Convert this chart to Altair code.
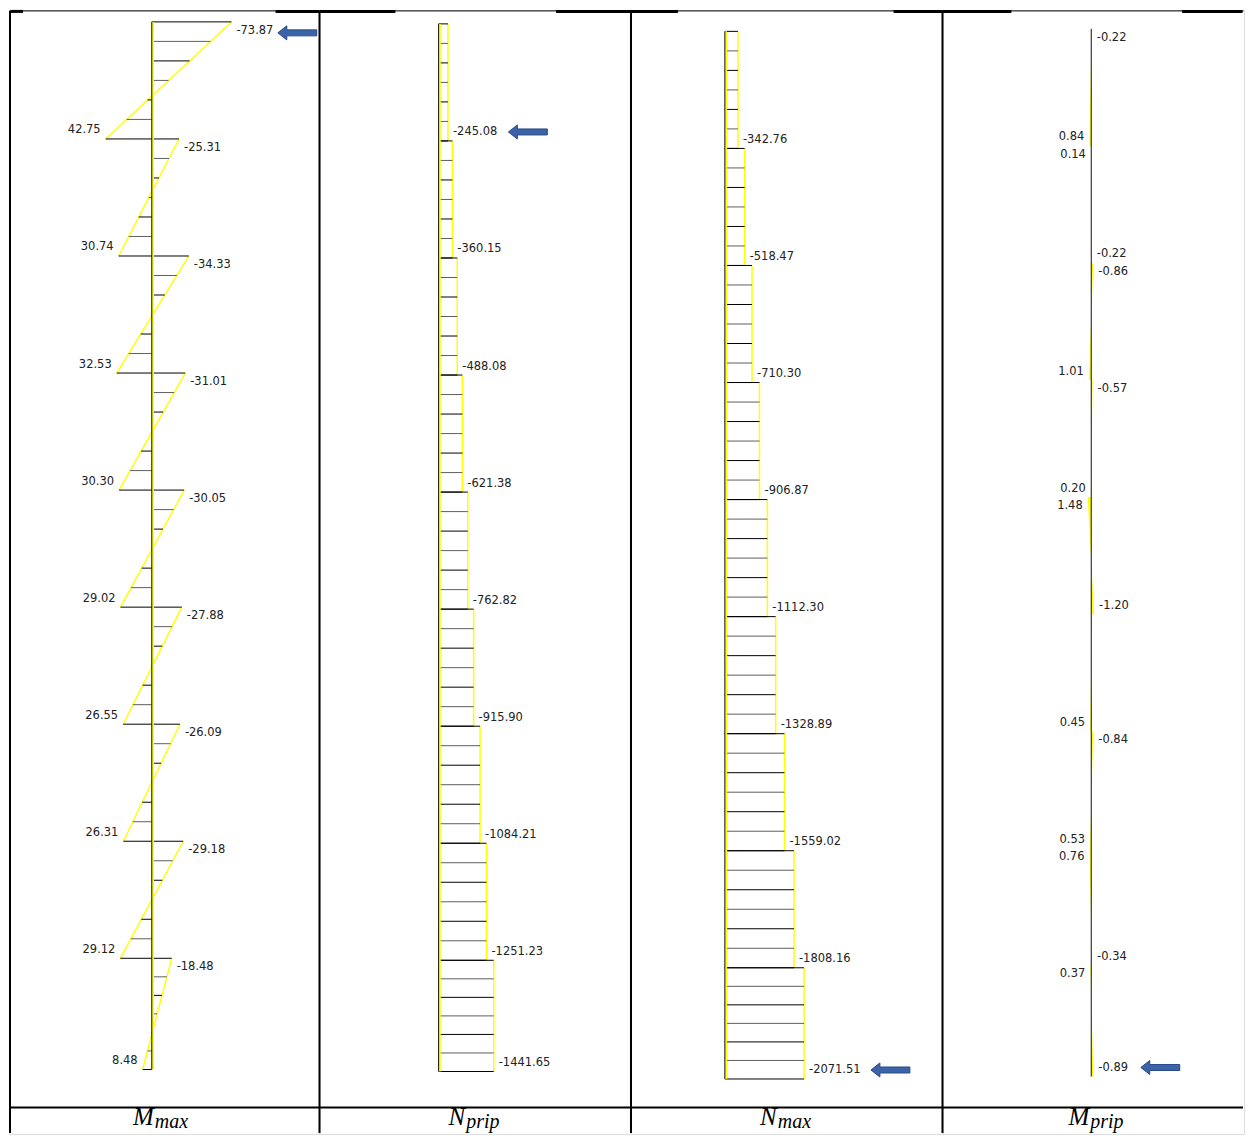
import altair as alt
import pandas as pd
import numpy as np

# ---------------- data ----------------
STOREY_HEIGHTS = [3.0, 3.0, 3.0, 3.0, 3.0, 3.0, 3.0, 3.0, 2.85]

M_MAX_TOP = [-73.87, -25.31, -34.33, -31.01, -30.05, -27.88, -26.09, -29.18, -18.48]
M_MAX_BOTTOM = [42.75, 30.74, 32.53, 30.30, 29.02, 26.55, 26.31, 29.12, 8.48]

N_PRIP = [-245.08, -360.15, -488.08, -621.38, -762.82, -915.90, -1084.21, -1251.23, -1441.65]
N_MAX = [-342.76, -518.47, -710.30, -906.87, -1112.30, -1328.89, -1559.02, -1808.16, -2071.51]

M_PRIP_TOP = [-0.22, 0.14, -0.86, -0.57, 1.48, -0.30, -0.84, 0.76, 0.37]
M_PRIP_BOTTOM = [0.84, -0.22, 1.01, 0.20, -1.20, 0.45, 0.53, -0.34, -0.89]
M_PRIP_TOP_SHOWN = [True, True, True, True, True, False, True, True, True]

PANEL_SYMBOLS = ["M", "N", "N", "M"]
PANEL_SUBSCRIPTS = ["max", "prip", "max", "prip"]
ARROW_AT = [("top", 0), ("bottom", 0), ("bottom", 8), ("bottom", 8)]

# ---------------- layout / style ----------------
PANEL_W = [311, 312, 312, 302]
PANEL_H = 1126
ROW_SPLIT = 1099.3
AXIS_X = [143, 119.3, 94, 149]
PX_PER_UNIT = [1.08, 0.0383, 0.0383, 2.4]
OUTLINE_W = [1.4, 1.5, 1.5, 1.0]
TOP_Y = [12, 14, 21.5, 19]
PX_PER_M = 39.08
HATCH = 6
ARROW_DX = [66, 80, 86.5, 67]
ARROW_DY = [11, -9, -9, -9]
TOP_THICK = [[(0, 14), (267, 311)], [(0, 76), (237, 312)],
             [(0, 47), (263, 312)], [(0, 69), (240, 302)]]
TITLE_SPLIT = [145, 146, 146, 147]
YELLOW = "#ffff00"
LABEL_FONT = "DejaVu Sans"
ARROW_PATH = ("M -1 0 L -0.54 -0.36 L -0.54 -0.154 L 1 -0.154 "
              "L 1 0.154 L -0.54 0.154 L -0.54 0.36 Z")

levels = [0.0] + list(np.cumsum(STOREY_HEIGHTS))
one = pd.DataFrame({"o": [0]})


def hline(p, w, x0, x1, y, sw):
    # keep stroke bounds inside the outer edges of the whole figure
    if p == 0:
        x0 = max(x0, sw / 2)
    if p == 3:
        x1 = min(x1, w - sw / 2)
    return alt.Chart(one).mark_rule(color="black", strokeWidth=sw).encode(
        x=alt.value(x0), x2=alt.value(x1), y=alt.value(y))


def make_panel(p, kind, v_top, v_bot, top_shown):
    w = PANEL_W[p]
    a = AXIS_X[p]
    k = PX_PER_UNIT[p]
    T = TOP_Y[p]
    xs = alt.Scale(domain=[(a - w) / k, a / k], reverse=True, nice=False, zero=False)
    ys = alt.Scale(domain=[-T / PX_PER_M, (PANEL_H - T) / PX_PER_M],
                   reverse=True, nice=False, zero=False)

    st = pd.DataFrame({
        "i": list(range(len(STOREY_HEIGHTS))),
        "v_top": v_top, "v_bot": v_bot,
        "d_top": levels[:-1], "d_bot": levels[1:],
        "zero": 0.0,
    })
    layers = []

    # yellow diagram outline
    outline = alt.Chart(st).mark_rule(color=YELLOW, strokeWidth=OUTLINE_W[p]).encode(
        x=alt.X("v_top:Q", scale=xs, axis=None),
        x2=alt.X2("v_bot"),
        y=alt.Y("d_top:Q", scale=ys, axis=None),
        y2=alt.Y2("d_bot"),
    )

    if p != 3:
        layers.append(outline)
        # hatching of the diagram area
        hatch = alt.Chart(st).transform_calculate(
            ks=f"sequence(0, {HATCH + 1})"
        ).transform_flatten(["ks"], as_=["k"]).transform_calculate(
            hv=f"datum.v_top + (datum.v_bot - datum.v_top) * datum.k / {HATCH}",
            hd=f"datum.d_top + (datum.d_bot - datum.d_top) * datum.k / {HATCH}",
            par="datum.k % 2 == 0 ? 'a' : 'b'",
        ).mark_rule(strokeWidth=1).encode(
            x=alt.X("hv:Q", scale=xs, axis=None),
            x2=alt.X2("zero"),
            y=alt.Y("hd:Q", scale=ys, axis=None),
            stroke=alt.Stroke("par:N", scale=alt.Scale(domain=["a", "b"],
                              range=["#000000", "#5e5e5e"]), legend=None),
        )
        layers.append(hatch)
    else:
        # tiny diagram: drawn as a solid yellow sliver between axis and line
        long_rows = []
        for i in range(len(STOREY_HEIGHTS)):
            long_rows.append({"i": i, "v": v_top[i], "d": levels[i], "zero": 0.0})
            long_rows.append({"i": i, "v": v_bot[i], "d": levels[i + 1], "zero": 0.0})
        lg = pd.DataFrame(long_rows)
        layers.append(alt.Chart(lg).mark_area(
            color=YELLOW, opacity=1, orient="horizontal", interpolate="linear"
        ).encode(
            x=alt.X("v:Q", scale=xs, axis=None),
            x2=alt.X2("zero"),
            y=alt.Y("d:Q", scale=ys, axis=None),
            detail="i:N",
        ))

    # member axis
    ax = pd.DataFrame({"zero": [0.0], "d0": [levels[0]], "d1": [levels[-1]]})
    if p != 3:
        layers.append(alt.Chart(ax).mark_rule(color=YELLOW, strokeWidth=2, xOffset=1.2).encode(
            x=alt.X("zero:Q", scale=xs, axis=None),
            y=alt.Y("d0:Q", scale=ys, axis=None), y2=alt.Y2("d1")))
    layers.append(alt.Chart(ax).mark_rule(color="#111111", strokeWidth=1).encode(
        x=alt.X("zero:Q", scale=xs, axis=None),
        y=alt.Y("d0:Q", scale=ys, axis=None), y2=alt.Y2("d1")))

    # value labels
    rows = []
    for i in range(len(STOREY_HEIGHTS)):
        if kind == "M" and top_shown[i]:
            rows.append({"val": v_top[i], "d": levels[i], "pos": "top"})
        rows.append({"val": v_bot[i], "d": levels[i + 1], "pos": "bot"})
    lab = pd.DataFrame(rows)
    lab["side"] = np.where(lab["val"] < 0, "r", "l")
    lab["txt"] = [f"{v:.2f}" for v in lab["val"]]
    for pos in ["top", "bot"]:
        for side in ["r", "l"]:
            sub = lab[(lab["pos"] == pos) & (lab["side"] == side)]
            if len(sub) == 0:
                continue
            layers.append(alt.Chart(sub).mark_text(
                font=LABEL_FONT, fontSize=11.5, color="#222222",
                align="left" if side == "r" else "right",
                baseline="middle",
                dx=5 if side == "r" else -5,
                dy=9 if pos == "top" else -8.5,
            ).encode(
                x=alt.X("val:Q", scale=xs, axis=None),
                y=alt.Y("d:Q", scale=ys, axis=None),
                text="txt:N",
            ))

    # governing-value arrow
    end, si = ARROW_AT[p]
    av = v_top[si] if end == "top" else v_bot[si]
    ad = levels[si] if end == "top" else levels[si + 1]
    arr = pd.DataFrame({"val": [av], "d": [ad]})
    layers.append(alt.Chart(arr).mark_point(
        shape=ARROW_PATH, size=1521, filled=True, fill="#3b63a8",
        stroke="#2a4a86", strokeWidth=1, opacity=1,
        xOffset=ARROW_DX[p], yOffset=ARROW_DY[p],
    ).encode(
        x=alt.X("val:Q", scale=xs, axis=None),
        y=alt.Y("d:Q", scale=ys, axis=None),
    ))

    # table borders (kept inside the figure's outer bounds)
    layers.append(alt.Chart(one).mark_rule(color="black", strokeWidth=2).encode(
        x=alt.value(1 if p == 0 else 0), y=alt.value(1), y2=alt.value(PANEL_H - 1)))
    layers.append(hline(p, w, 0, w, 1, 1))
    for (s0, s1) in TOP_THICK[p]:
        layers.append(hline(p, w, s0, min(s1, w), 1.5, 3))
    layers.append(hline(p, w, 0, w, ROW_SPLIT, 2))

    # column title (symbol with italic subscript)
    layers.append(alt.Chart(one).mark_text(
        text=PANEL_SYMBOLS[p], font="Liberation Serif", fontStyle="italic",
        fontSize=25, color="black", align="right", baseline="alphabetic",
    ).encode(x=alt.value(TITLE_SPLIT[p]), y=alt.value(1117)))
    layers.append(alt.Chart(one).mark_text(
        text=PANEL_SUBSCRIPTS[p], font="Liberation Serif", fontStyle="italic",
        fontSize=20, color="black", align="left", baseline="alphabetic",
    ).encode(x=alt.value(TITLE_SPLIT[p] + 1), y=alt.value(1120)))

    return alt.layer(*layers).properties(width=w, height=PANEL_H)


panels = [
    make_panel(0, "M", M_MAX_TOP, M_MAX_BOTTOM, [True] * 9),
    make_panel(1, "N", N_PRIP, N_PRIP, [False] * 9),
    make_panel(2, "N", N_MAX, N_MAX, [False] * 9),
    make_panel(3, "M", M_PRIP_TOP, M_PRIP_BOTTOM, M_PRIP_TOP_SHOWN),
]

chart = alt.hconcat(*panels, spacing=0, bounds="flush").properties(
    padding=0
).configure_view(strokeWidth=0).configure(background="white")

chart.save("out.html", embed_options={"renderer": "svg", "actions": False})
